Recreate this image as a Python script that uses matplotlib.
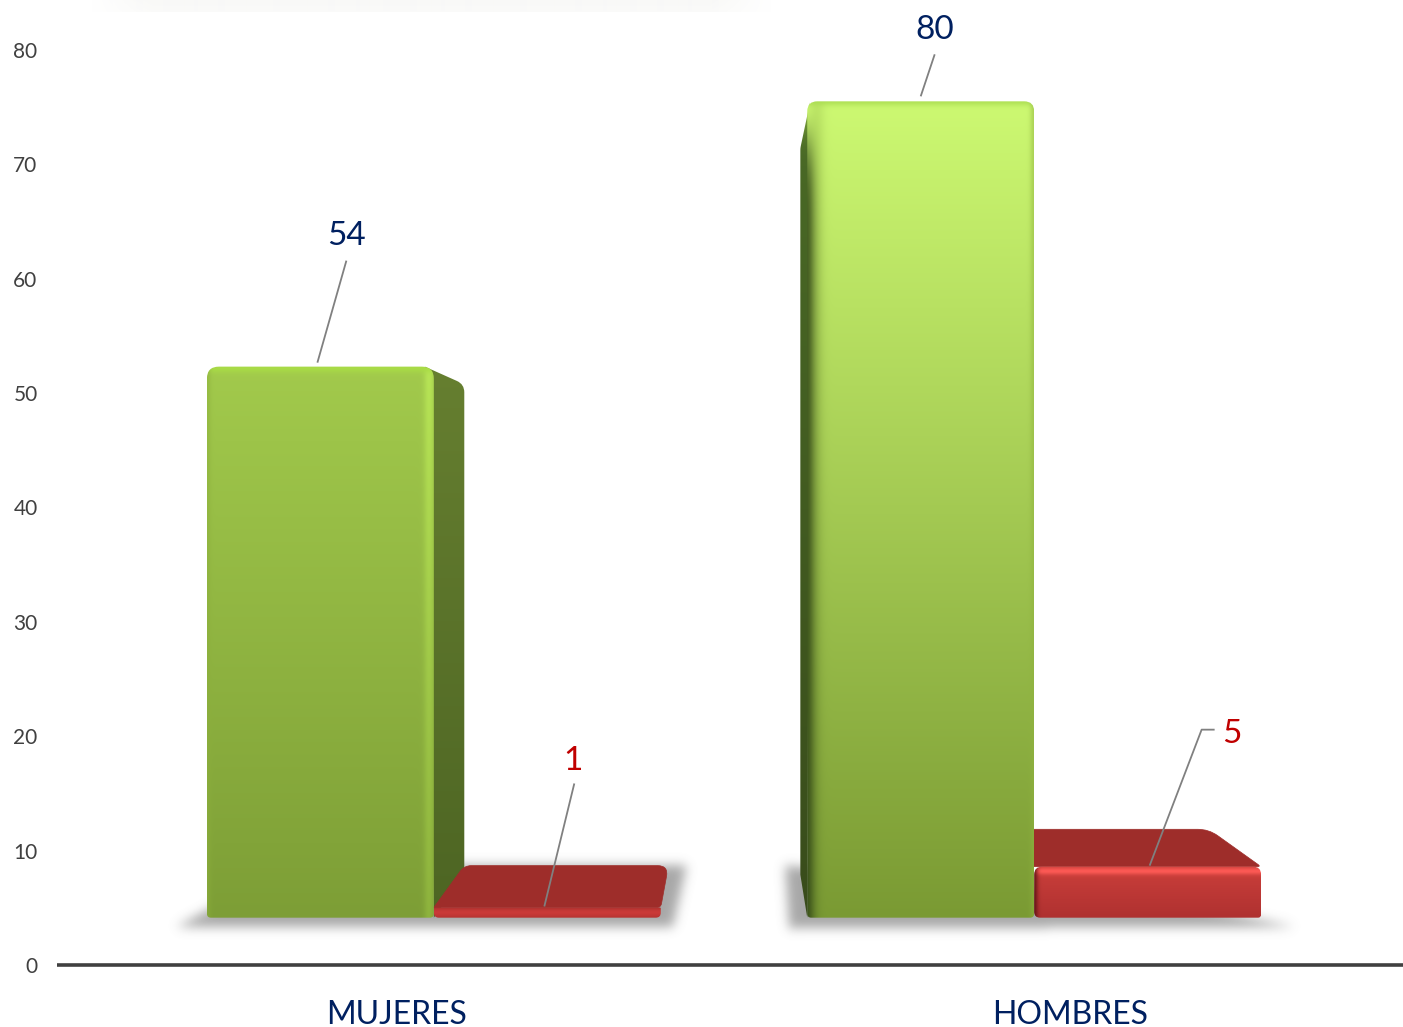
import numpy as np
import matplotlib
matplotlib.use("Agg")
import matplotlib.pyplot as plt
from matplotlib.colors import to_rgb
from matplotlib.path import Path
from matplotlib.patches import PathPatch

categories = ["MUJERES", "HOMBRES"]
green_values = [54, 80]
red_values = [1, 5]
y_ticks = [0, 10, 20, 30, 40, 50, 60, 70, 80]

# layout of the fake 3D plot, everything shrinks towards a vanishing point
W, H = 1403, 1027
PX_X = 673.0
PX_Y = 11.44
VP_X, VP_Y = 0.507, 38.3
FRONT = 0.892
BACK_X, BACK_Y = 0.10, 0.11
BAR_W = 0.378

plt.rcParams["font.family"] = ["Lato", "DejaVu Sans"]
fig = plt.figure(figsize=(W / 100, H / 100), dpi=100)
ax = fig.add_axes([57 / W, 62 / H, 1 - 57 / W, 965 / H])
XLIM = (-340 / PX_X, 1006 / PX_X)
YLIM = (0, 965 / PX_Y)


def front(x, v):
    return VP_X + FRONT * (x - VP_X), VP_Y + FRONT * (v - VP_Y)


def back(x, v):
    fx, fy = front(x, v)
    return fx + BACK_X * (VP_X - fx), fy + BACK_Y * (VP_Y - fy)


def rounded(pts, radii):
    # closed path with rounded corners, radii in pixels
    p = np.array(pts) * [PX_X, PX_Y]
    n = len(p)
    verts, codes = [], []
    for i in range(n):
        a, b, c = p[i - 1], p[i], p[(i + 1) % n]
        r = max(radii[i], 0.01)
        s = b + (a - b) / np.linalg.norm(a - b) * r
        e = b + (c - b) / np.linalg.norm(c - b) * r
        verts += [s, b, e]
        codes += [Path.LINETO, Path.CURVE3, Path.CURVE3]
    codes[0] = Path.MOVETO
    verts.append(verts[0])
    codes.append(Path.CLOSEPOLY)
    return Path(np.array(verts) / [PX_X, PX_Y], codes)


def shaded(pts, radii, top, bottom, bevels, z):
    # vertical gradient + soft bands along the edges, clipped to the shape
    # a band is (side, colour or gain, centre, width, amount, fade from top)
    arr = np.array(pts)
    x0, x1 = arr[:, 0].min(), arr[:, 0].max()
    y0, y1 = arr[:, 1].min(), arr[:, 1].max()
    w = max(int((x1 - x0) * PX_X), 2)
    h = max(int((y1 - y0) * PX_Y), 2)
    xx, yy = np.meshgrid(np.arange(w) + 0.5, np.arange(h) + 0.5)
    t = (yy / h)[..., None]
    img = np.array(to_rgb(top)) * (1 - t) + np.array(to_rgb(bottom)) * t
    dist = {"left": xx, "right": w - xx, "top": yy, "bottom": h - yy}
    for side, col, centre, width, amount, fade in bevels:
        a = amount * np.exp(-((dist[side] - centre) / width) ** 2)
        if fade:
            a = a * (1 - np.exp(-(yy / fade) ** 2))
        a = a[..., None]
        if isinstance(col, float):
            img = img * (1 + (col - 1) * a)
        else:
            img = img * (1 - a) + np.array(to_rgb(col)) * a
    im = ax.imshow(np.clip(img, 0, 1), extent=(x0, x1, y0, y1), origin="upper", aspect="auto",
                   interpolation="bilinear", zorder=z)
    clip = PathPatch(rounded(pts, radii), fc="none", ec="none", zorder=z)
    ax.add_patch(clip)
    im.set_clip_path(clip)


def flat(pts, radii, color, z):
    ax.add_patch(PathPatch(rounded(pts, radii), fc=color, ec=color, lw=0.5, zorder=z))


def floor_shadow(polys):
    # blurred grey polygons on the floor
    v0, v1 = 0.0, 13.5
    nx, ny = int((XLIM[1] - XLIM[0]) * PX_X), int((v1 - v0) * PX_Y)
    xs = np.linspace(XLIM[0], XLIM[1], nx)
    ys = np.linspace(v1, v0, ny)
    gx, gy = np.meshgrid(xs, ys)
    grid = np.column_stack([gx.ravel(), gy.ravel()])
    mask = np.zeros(gx.shape)
    for poly in polys:
        mask += Path(poly).contains_points(grid).reshape(gx.shape)
    mask = np.clip(mask, 0, 1)
    kern = np.exp(-0.5 * (np.arange(-15, 16) / 5.5) ** 2)
    kern /= kern.sum()
    for i in range(mask.shape[0]):
        mask[i] = np.convolve(mask[i], kern, mode="same")
    for j in range(mask.shape[1]):
        mask[:, j] = np.convolve(mask[:, j], kern, mode="same")
    img = np.zeros(mask.shape + (4,))
    img[..., :3] = 0.45
    img[..., 3] = mask * 0.62
    ax.imshow(img, extent=(XLIM[0], XLIM[1], v0, v1), aspect="auto", zorder=1)


def offset(pt, dx, dy):
    return (pt[0] + dx / PX_X, pt[1] - dy / PX_Y)


# shadows, taken from the floor corners of each group
shadows = []
for i, (dl, dr, bl, br) in enumerate([((-30, 9), (12, 9), (31, -9), (18, -9)),
                                      ((-18, 11), (33, 9), (-15, -9), (-10, 33))]):
    fl = front(i - BAR_W, 0)
    fr = front(i + BAR_W, 0)
    shadows.append([offset(fl, *dl), offset(fr, *dr),
                    offset(back(i + BAR_W, 0), *br), offset(back(i - BAR_W, 0), *bl)])
floor_shadow(shadows)

# faint smudge along the top edge of the source image
smudge = np.ones((12, 12, 4))
smudge[..., :3] = to_rgb("#F9F9F7")
smudge[..., 3] = np.linspace(1, 0.7, 12)[:, None] * np.ones(12)
smudge[:, 0, 3] = 0
smudge[:, -1, 3] = 0
ax.imshow(smudge, extent=(-0.5, 0.6, YLIM[1] - 12 / PX_Y, YLIM[1]), aspect="auto",
          interpolation="bilinear", zorder=0)

# green sides
g_sides = [dict(top="#667F30", bottom="#4D6523", bev=[], inset=-9, r=8),
           dict(top="#4A6A26", bottom="#394C1B", bev=[("top", "#9CC84A", 0, 28, 0.9, 0)], inset=3, r=2)]
for i, val in enumerate(green_values):
    edge = i if i == 0 else i - BAR_W
    s = g_sides[i]
    pts = [offset(front(edge, val), s["inset"], 0), back(edge, val), back(edge, 0), front(edge, 0)]
    shaded(pts, [0, s["r"], 0, 0], s["top"], s["bottom"], s["bev"], 3 + i * 2)

# red tops
for i, val in enumerate(red_values):
    pts = [front(i, val), back(i, val), back(i + BAR_W, val), front(i + BAR_W, val)]
    flat(pts, [0, 7, 11, 4], "#9E2D2A", 4 + i * 2)

# green fronts
g_fronts = [
    dict(top="#A2CA4C", bottom="#7D9E36", r=12,
         bevels=[("right", 1.13, 5, 5, 1.0, 0), ("top", "#A9DC46", 2, 5, 0.9, 0),
                 ("left", "#8CAF3C", 0, 4, 0.5, 0)]),
    dict(top="#CDF972", bottom="#7A9A33", r=10,
         bevels=[("left", "#2F4416", 0, 9, 0.85, 55), ("left", "#7E9F38", 10, 8, 0.2, 0),
                 ("top", "#A9DC50", 0, 5, 0.8, 0), ("right", "#8FB33E", 0, 4, 0.5, 0)]),
]
for i, val in enumerate(green_values):
    x0, x1 = i - BAR_W, i
    pts = [front(x0, 0), front(x0, val), front(x1, val), front(x1, 0)]
    s = g_fronts[i]
    shaded(pts, [4, s["r"], s["r"], 4], s["top"], s["bottom"], s["bevels"], 5 + i * 2 + 0.2)

# red fronts
for i, val in enumerate(red_values):
    x0, x1 = i, i + BAR_W
    pts = [front(x0, 0), front(x0, val), front(x1, val), front(x1, 0)]
    if val > 2:
        bev = [("top", "#FF5B56", 5, 3.5, 0.95, 0), ("left", "#5E1212", 0, 4, 0.85, 0)]
        shaded(pts, [6, 8, 8, 3], "#CB3F3B", "#AF3130", bev, 7 + i * 2)
    else:
        bev = [("bottom", "#CC3B39", 5, 4, 0.95, 0)]
        shaded(pts, [5, 1, 1, 5], "#A12E2B", "#B23231", bev, 7 + i * 2)

# value labels with leader lines, offsets are pixels from the top of the bar
leaders = [
    (0, -BAR_W / 2, green_values[0], "#002060", [(-3, 4), (26, 106)], (26, 131)),
    (1, -BAR_W / 2, green_values[1], "#002060", [(0, 5), (14, 47)], (14, 71)),
    (0, BAR_W / 2, red_values[0], "#C00000", [(-3, 1), (27, 124)], (26, 146)),
    (1, BAR_W / 2, red_values[1], "#C00000", [(2, 1), (54, 137), (67, 137)], (84, 133)),
]
for i, dx, val, col, line, lab in leaders:
    ax0, ay0 = front(i + dx, val)
    ax.plot([ax0 + p[0] / PX_X for p in line], [ay0 + p[1] / PX_Y for p in line],
            color="#808080", lw=1.3, zorder=20, solid_capstyle="butt")
    ax.text(ax0 + lab[0] / PX_X, ay0 + lab[1] / PX_Y, str(val), color=col, fontsize=24,
            ha="center", va="center", zorder=21)

ax.set_xlim(*XLIM)
ax.set_ylim(*YLIM)
ax.set_xticks([0, 1])
ax.set_xticklabels(categories, fontsize=23, color="#002060")
ax.set_yticks(y_ticks)
ax.set_yticklabels([str(t) for t in y_ticks], fontsize=15, color="#404040")
ax.tick_params(axis="x", length=0, pad=25)
ax.tick_params(axis="y", length=0, pad=14)
for name in ["top", "right", "left"]:
    ax.spines[name].set_visible(False)
ax.spines["bottom"].set_color("#404040")
ax.spines["bottom"].set_linewidth(2.6)
ax.spines["bottom"].set_capstyle("butt")
ax.patch.set_alpha(0)

fig.savefig("out.png", dpi=100)
